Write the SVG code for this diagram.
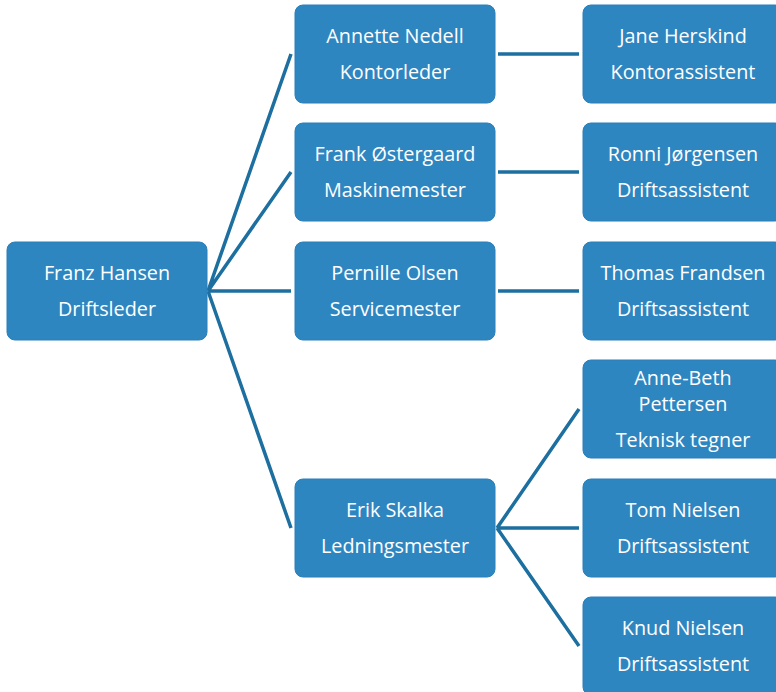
<svg xmlns="http://www.w3.org/2000/svg" width="776" height="692" viewBox="0 0 776 692">
<style>
.box{fill:#2e86c1;stroke:#2a7fb8;stroke-width:1}
.t{font-family:"Open Sans","Liberation Sans",sans-serif;font-size:19.8px;fill:#ffffff;text-anchor:middle}
.c{stroke:#1d6fa0;stroke-width:3.5;fill:none;stroke-linecap:butt}
</style>
<rect width="776" height="692" fill="#ffffff"/>
<g id="connectors">
<path class="c" d="M208,291 L291,54 M208,291 L291,172 M208,291 L291,291 M208,291 L291,528"/>
<path class="c" d="M498,54 L579,54 M498,172 L579,172 M498,291 L579,291"/>
<path class="c" d="M497,528 L579,409 M497,528 L579,528 M497,528 L579,646"/>
</g>
<g id="franz"><rect class="box" x="7" y="242" width="200" height="98" rx="8"/><text class="t" x="107" y="280">Franz Hansen</text><text class="t" x="107" y="316">Driftsleder</text></g>
<g id="annette"><rect class="box" x="295" y="5" width="200" height="98" rx="8"/><text class="t" x="395" y="43">Annette Nedell</text><text class="t" x="395" y="79">Kontorleder</text></g>
<g id="frank"><rect class="box" x="295" y="123" width="200" height="98" rx="8"/><text class="t" x="395" y="161">Frank Østergaard</text><text class="t" x="395" y="197">Maskinemester</text></g>
<g id="pernille"><rect class="box" x="295" y="242" width="200" height="98" rx="8"/><text class="t" x="395" y="280">Pernille Olsen</text><text class="t" x="395" y="316">Servicemester</text></g>
<g id="erik"><rect class="box" x="295" y="479" width="200" height="98" rx="8"/><text class="t" x="395" y="517">Erik Skalka</text><text class="t" x="395" y="553">Ledningsmester</text></g>
<g id="jane"><rect class="box" x="583" y="5" width="200" height="98" rx="8"/><text class="t" x="683" y="43">Jane Herskind</text><text class="t" x="683" y="79">Kontorassistent</text></g>
<g id="ronni"><rect class="box" x="583" y="123" width="200" height="98" rx="8"/><text class="t" x="683" y="161">Ronni Jørgensen</text><text class="t" x="683" y="197">Driftsassistent</text></g>
<g id="thomas"><rect class="box" x="583" y="242" width="200" height="98" rx="8"/><text class="t" x="683" y="280">Thomas Frandsen</text><text class="t" x="683" y="316">Driftsassistent</text></g>
<g id="annebeth"><rect class="box" x="583" y="360" width="200" height="98" rx="8"/><text class="t" x="683" y="385">Anne-Beth</text><text class="t" x="683" y="411">Pettersen</text><text class="t" x="683" y="447">Teknisk tegner</text></g>
<g id="tom"><rect class="box" x="583" y="479" width="200" height="98" rx="8"/><text class="t" x="683" y="517">Tom Nielsen</text><text class="t" x="683" y="553">Driftsassistent</text></g>
<g id="knud"><rect class="box" x="583" y="597" width="200" height="98" rx="8"/><text class="t" x="683" y="635">Knud Nielsen</text><text class="t" x="683" y="671">Driftsassistent</text></g>
</svg>
